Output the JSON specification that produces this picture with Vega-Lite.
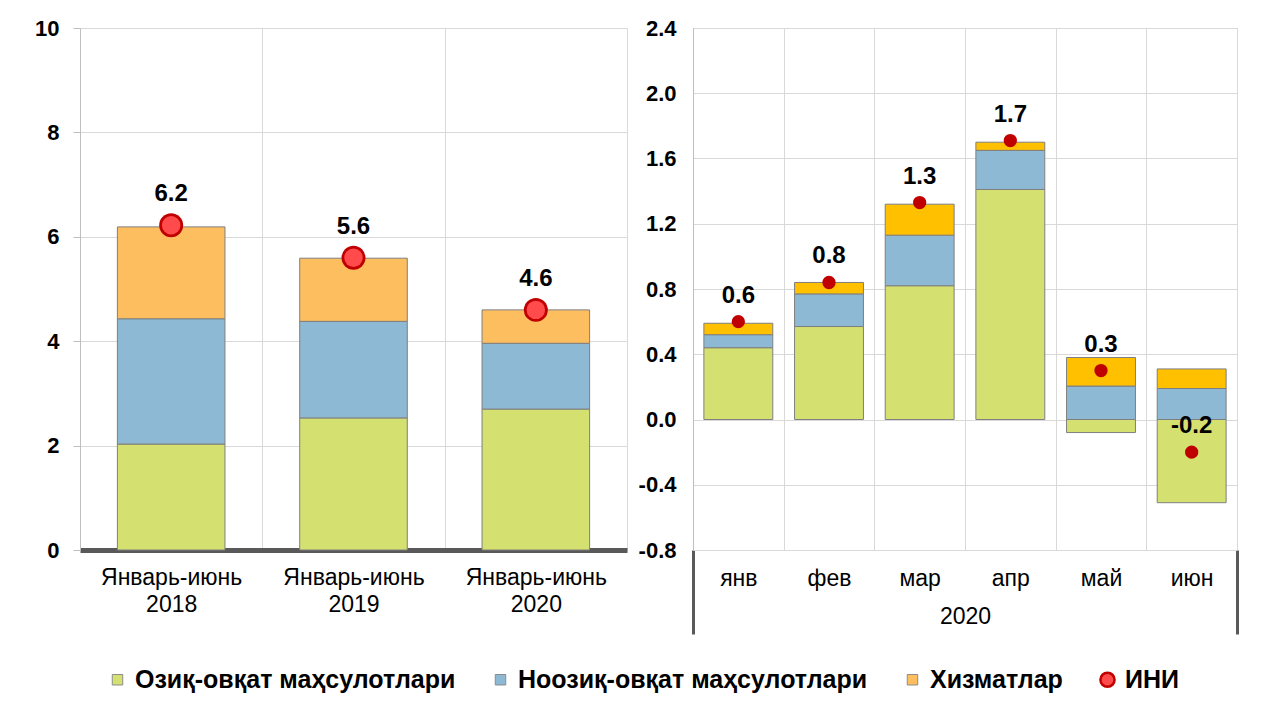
{
  "$schema": "https://vega.github.io/schema/vega-lite/v6.json",
  "background": "white",
  "padding": {"left": 34, "top": 16, "right": 20, "bottom": 5},
  "config": {
    "font": "Liberation Sans",
    "locale": {"number": {"decimal": ".", "thousands": ",", "grouping": [3], "currency": ["", ""], "minus": "-"}},
    "view": {"stroke": "#D9D9D9"},
    "axis": {"gridColor": "#D9D9D9", "domainColor": "#BFBFBF", "tickColor": "#BFBFBF", "labelFont": "Liberation Sans", "titleFont": "Liberation Sans", "labelColor": "#000000", "titleColor": "#000000"}
  },
  "datasets": {
    "ann": [
      {"p": "Январь-июнь 2018", "s": "Озиқ-овқат маҳсулотлари", "k": 1, "v": 2.03},
      {"p": "Январь-июнь 2018", "s": "Ноозиқ-овқат маҳсулотлари", "k": 2, "v": 2.40},
      {"p": "Январь-июнь 2018", "s": "Хизматлар", "k": 3, "v": 1.76},
      {"p": "Январь-июнь 2018", "s": "ИНИ", "k": 4, "v": 6.22},
      {"p": "Январь-июнь 2019", "s": "Озиқ-овқат маҳсулотлари", "k": 1, "v": 2.53},
      {"p": "Январь-июнь 2019", "s": "Ноозиқ-овқат маҳсулотлари", "k": 2, "v": 1.85},
      {"p": "Январь-июнь 2019", "s": "Хизматлар", "k": 3, "v": 1.21},
      {"p": "Январь-июнь 2019", "s": "ИНИ", "k": 4, "v": 5.6},
      {"p": "Январь-июнь 2020", "s": "Озиқ-овқат маҳсулотлари", "k": 1, "v": 2.70},
      {"p": "Январь-июнь 2020", "s": "Ноозиқ-овқат маҳсулотлари", "k": 2, "v": 1.26},
      {"p": "Январь-июнь 2020", "s": "Хизматлар", "k": 3, "v": 0.64},
      {"p": "Январь-июнь 2020", "s": "ИНИ", "k": 4, "v": 4.6}
    ],
    "mon": [
      {"p": "янв", "s": "Озиқ-овқат маҳсулотлари", "k": 1, "v": 0.44},
      {"p": "янв", "s": "Ноозиқ-овқат маҳсулотлари", "k": 2, "v": 0.08},
      {"p": "янв", "s": "Хизматлар", "k": 3, "v": 0.07},
      {"p": "янв", "s": "ИНИ", "k": 4, "v": 0.6},
      {"p": "фев", "s": "Озиқ-овқат маҳсулотлари", "k": 1, "v": 0.57},
      {"p": "фев", "s": "Ноозиқ-овқат маҳсулотлари", "k": 2, "v": 0.20},
      {"p": "фев", "s": "Хизматлар", "k": 3, "v": 0.07},
      {"p": "фев", "s": "ИНИ", "k": 4, "v": 0.84},
      {"p": "мар", "s": "Озиқ-овқат маҳсулотлари", "k": 1, "v": 0.82},
      {"p": "мар", "s": "Ноозиқ-овқат маҳсулотлари", "k": 2, "v": 0.31},
      {"p": "мар", "s": "Хизматлар", "k": 3, "v": 0.19},
      {"p": "мар", "s": "ИНИ", "k": 4, "v": 1.33},
      {"p": "апр", "s": "Озиқ-овқат маҳсулотлари", "k": 1, "v": 1.41},
      {"p": "апр", "s": "Ноозиқ-овқат маҳсулотлари", "k": 2, "v": 0.24},
      {"p": "апр", "s": "Хизматлар", "k": 3, "v": 0.05},
      {"p": "апр", "s": "ИНИ", "k": 4, "v": 1.71},
      {"p": "май", "s": "Озиқ-овқат маҳсулотлари", "k": 1, "v": -0.08},
      {"p": "май", "s": "Ноозиқ-овқат маҳсулотлари", "k": 2, "v": 0.205},
      {"p": "май", "s": "Хизматлар", "k": 3, "v": 0.175},
      {"p": "май", "s": "ИНИ", "k": 4, "v": 0.30},
      {"p": "июн", "s": "Озиқ-овқат маҳсулотлари", "k": 1, "v": -0.51},
      {"p": "июн", "s": "Ноозиқ-овқат маҳсулотлари", "k": 2, "v": 0.19},
      {"p": "июн", "s": "Хизматлар", "k": 3, "v": 0.12},
      {"p": "июн", "s": "ИНИ", "k": 4, "v": -0.20}
    ]
  },
  "spacing": 9,
  "resolve": {"scale": {"color": "shared"}},
  "hconcat": [
    {
      "width": 547,
      "height": 522,
      "data": {"name": "ann"},
      "encoding": {
        "x": {
          "field": "p", "type": "nominal", "sort": null,
          "scale": {"paddingInner": 0, "paddingOuter": 0},
          "axis": {"title": null, "labelAngle": 0, "labelExpr": "split(datum.label, ' ')", "labelFontSize": 23, "labelLineHeight": 27, "labelPadding": 16, "tickBand": "extent", "grid": true, "ticks": false, "domainColor": "#595959", "domainWidth": 5}
        }
      },
      "layer": [
        {
          "transform": [{"filter": "datum.s !== 'ИНИ'"}],
          "mark": {"type": "bar", "stroke": "#7F7F7F", "strokeWidth": 1, "width": {"band": 0.59}},
          "encoding": {
            "y": {"field": "v", "type": "quantitative", "scale": {"domain": [0, 10], "nice": false},
                  "axis": {"title": null, "values": [0, 2, 4, 6, 8, 10], "labelFontSize": 22, "labelFontWeight": "bold", "tickSize": 7, "labelPadding": 14, "grid": true}},
            "color": {
              "field": "s", "type": "nominal",
              "scale": {"domain": ["Озиқ-овқат маҳсулотлари", "Ноозиқ-овқат маҳсулотлари", "Хизматлар", "ИНИ"], "range": ["#D4E06F", "#8DB9D4", "#FDBE5F", "#FF4B4B"]},
              "legend": {
                "orient": "none", "legendX": 25, "legendY": 639, "direction": "horizontal", "title": null,
                "labelFontSize": 25, "labelFontWeight": "bold", "labelFont": "Liberation Sans", "labelColor": "#000000",
                "symbolType": {"expr": "datum.value === 'ИНИ' ? 'circle' : 'square'"},
                "symbolSize": {"expr": "datum.value === 'ИНИ' ? 200 : 110"},
                "symbolStrokeColor": {"expr": "datum.value === 'ИНИ' ? '#C00000' : '#8C8C8C'"},
                "symbolStrokeWidth": {"expr": "datum.value === 'ИНИ' ? 2.5 : 1"},
                "symbolOpacity": 1,
                "columnPadding": 32, "labelOffset": 5, "labelLimit": 0
              }
            },
            "order": {"field": "k", "type": "quantitative"}
          }
        },
        {
          "transform": [{"filter": "datum.s === 'ИНИ'"}],
          "mark": {"type": "point", "shape": "circle", "filled": true, "size": 573, "color": "#C00000", "opacity": 1},
          "encoding": {
            "y": {"field": "v", "type": "quantitative", "stack": null}
          }
        },
        {
          "transform": [{"filter": "datum.s === 'ИНИ'"}],
          "mark": {"type": "point", "shape": "circle", "filled": true, "size": 340, "opacity": 1},
          "encoding": {
            "y": {"field": "v", "type": "quantitative", "stack": null},
            "color": {"field": "s", "type": "nominal"}
          }
        },
        {
          "transform": [{"filter": "datum.s === 'ИНИ'"}],
          "mark": {"type": "text", "dy": -31, "fontSize": 24, "fontWeight": "bold", "font": "Liberation Sans", "color": "#000000"},
          "encoding": {
            "y": {"field": "v", "type": "quantitative", "stack": null},
            "text": {"field": "v", "type": "quantitative", "format": ".1f"}
          }
        }
      ]
    },
    {
      "width": 544,
      "height": 522,
      "data": {"name": "mon"},
      "encoding": {
        "x": {
          "field": "p", "type": "nominal", "sort": null,
          "scale": {"paddingInner": 0, "paddingOuter": 0},
          "axis": {
            "title": "2020", "titleFontSize": 23, "titleFontWeight": "normal", "titleY": 66, "titleBaseline": "middle",
            "labelAngle": 0, "labelFontSize": 23, "labelPadding": -67,
            "tickBand": "extent", "grid": true, "tickSize": 84, "tickWidth": 3, "tickColor": "#595959",
            "tickOpacity": {"condition": {"test": "datum.extra || datum.value === 'июн'", "value": 1}, "value": 0},
            "domainColor": "#D9D9D9"
          }
        }
      },
      "layer": [
        {
          "transform": [{"filter": "datum.s !== 'ИНИ'"}],
          "mark": {"type": "bar", "stroke": "#7F7F7F", "strokeWidth": 1, "width": {"band": 0.76}},
          "encoding": {
            "y": {"field": "v", "type": "quantitative", "scale": {"domain": [-0.8, 2.4], "nice": false},
                  "axis": {"title": null, "values": [-0.8, -0.4, 0, 0.4, 0.8, 1.2, 1.6, 2.0, 2.4], "format": ".1f", "labelFontSize": 22, "labelFontWeight": "bold", "ticks": false, "labelPadding": 17, "grid": true}},
            "color": {
              "condition": {"test": "datum.s === 'Хизматлар'", "value": "#FFC000"},
              "field": "s", "type": "nominal"
            },
            "order": {"field": "k", "type": "quantitative"}
          }
        },
        {
          "mark": {"type": "rule", "color": "#595959", "strokeWidth": 4},
          "encoding": {"y": {"datum": 0}}
        },
        {
          "transform": [{"filter": "datum.s === 'ИНИ'"}],
          "mark": {"type": "point", "shape": "circle", "filled": true, "size": 177, "color": "#C00000", "opacity": 1},
          "encoding": {
            "y": {"field": "v", "type": "quantitative", "stack": null}
          }
        },
        {
          "transform": [{"filter": "datum.s === 'ИНИ'"}],
          "mark": {"type": "text", "dy": -26, "fontSize": 24, "fontWeight": "bold", "font": "Liberation Sans", "color": "#000000"},
          "encoding": {
            "y": {"field": "v", "type": "quantitative", "stack": null},
            "text": {"field": "v", "type": "quantitative", "format": ".1f"}
          }
        }
      ]
    }
  ]
}
